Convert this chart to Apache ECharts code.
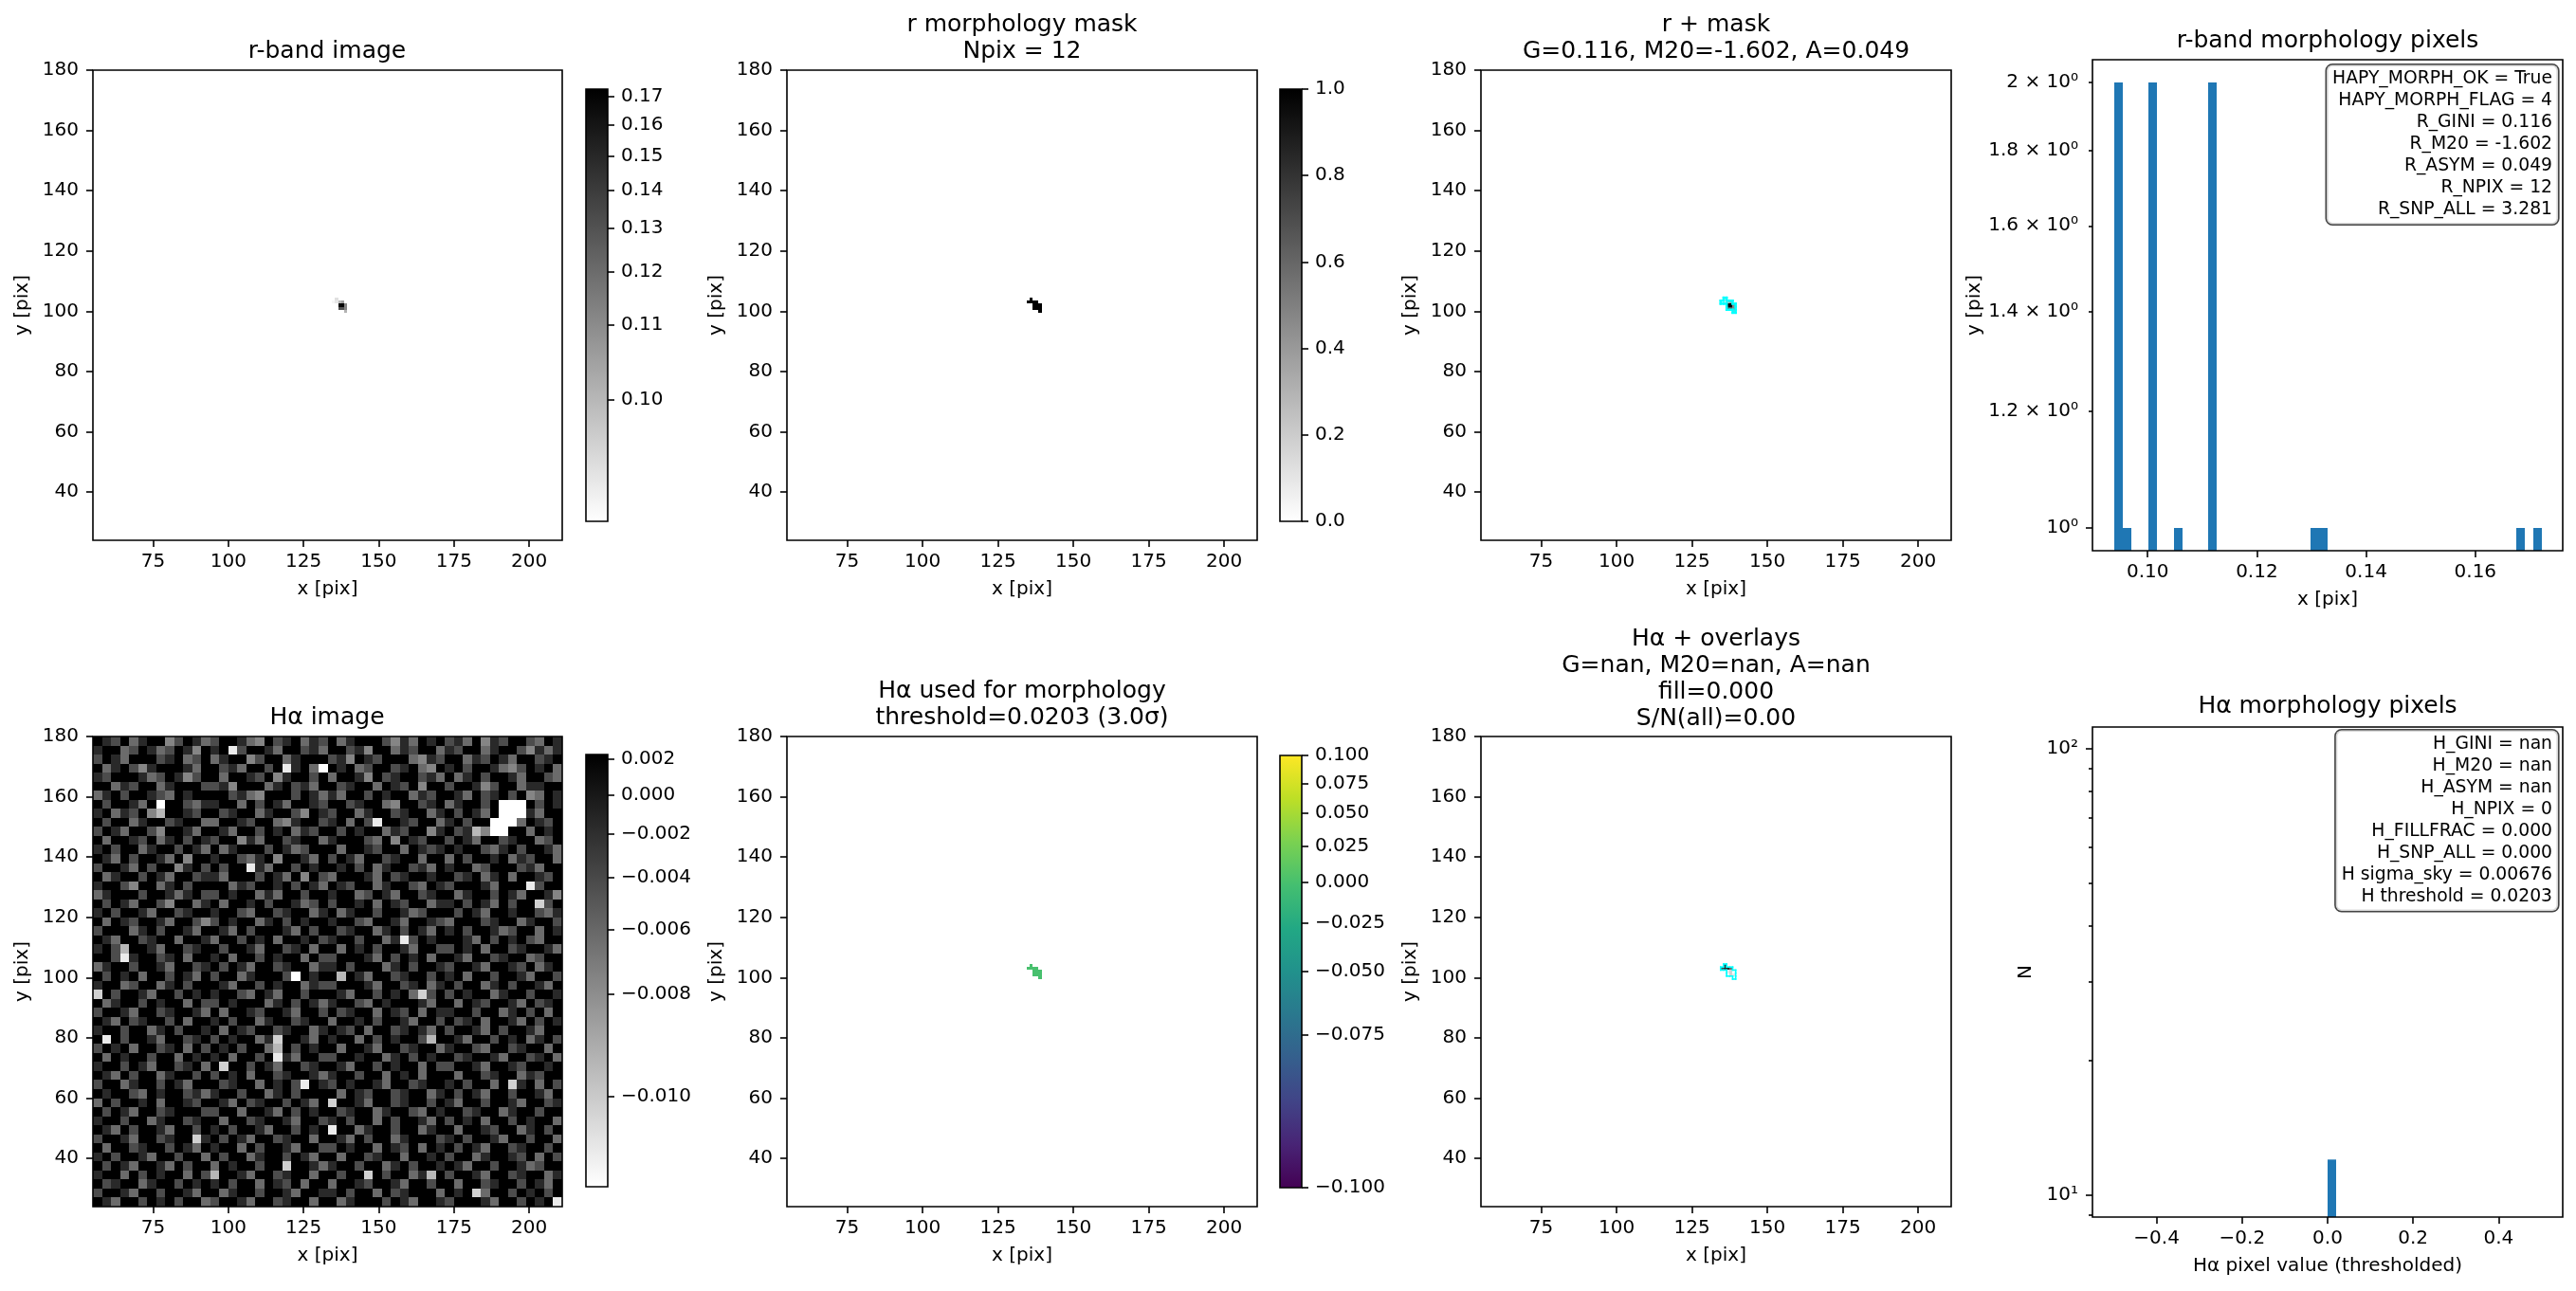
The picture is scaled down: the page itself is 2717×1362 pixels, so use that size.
<!DOCTYPE html>
<html>
<head>
<meta charset="utf-8">
<script src="https://cdn.jsdelivr.net/npm/echarts@6/dist/echarts.min.js"></script>
<style>
html, body { margin: 0; padding: 0; background: #fff; }
#chart { width: 2717px; height: 1362px; }
</style>
</head>
<body>
<div id="chart"></div>
<script>
// ---- data ----
// the 12 pixels of the r-band morphology mask (pixel centres)
const maskX = [136, 135, 136, 137, 138, 137, 138, 139, 137, 138, 139, 139];
const maskY = [104, 103, 103, 103, 103, 102, 102, 102, 101, 101, 101, 100];
// r-band flux of those pixels
const rFlux = [0.0950, 0.0939, 0.0945, 0.1005, 0.1050, 0.1680, 0.1721, 0.1115, 0.1310, 0.1300, 0.1120, 0.1010];
// H-alpha value used for morphology (thresholded) of those pixels
const haMorph = [0, 0, 0, 0, 0, 0, 0, 0, 0, 0, 0, 0];
// H-alpha overlay panel, grey level code of those pixels (0 black .. 9 white)
const haOverlayCode = [1, 2, 1, 1, 3, 8, 7, 9, 9, 7, 8, 9];

// histogram of r-band morphology pixels
const rHistLeft = [0.09386, 0.09543, 0.10013, 0.10483, 0.11109, 0.12988, 0.13145, 0.16747, 0.17060];
const rHistCount = [2, 1, 2, 1, 2, 1, 1, 1, 1];
const rHistWidth = 0.001566;
// histogram of H-alpha morphology pixels
const haHistLeft = [0.0];
const haHistCount = [12];
const haHistWidth = 0.02;

// H-alpha image, 52 x 52 blocks of 3x3 pixels, grey level codes (0 black .. 9 white), top row first
const haRows = [
  "0120310042013 2001340210312 0310002413010 2130412002301",
  "1003201320140 1082001300213 0021400312003 1200310024131",
  "2013000210320 3100420031000 2140120003412 0031201300210",
  "0310241000130 0213002081039 0103200210340 1020013420103",
  "1200013201420 0300120410020 3001402100213 0310200130023",
  "0031200310002 2140003102130 0210030120400 2001420031100",
  "3102001230100 0021340002013 1300201003120 0130210204301",
  "0200130900231 1003020130012 0021003400210 3100209990201",
  "1031204600120 0210031002401 2003100210031 0201309991300",
  "0200310021003 3001200341002 1030280012003 1020099930120",
  "2013002400130 0130020103120 0201003120041 0216499003010",
  "0300120310201 2004130021003 1000230401200 2013002100320",
  "1020031002013 0310002013200 0300120030121 0100231020013",
  "0130200130400 1002310400130 2013002100300 3020010312003",
  "2001302004102 0200813002010 0102031002130 1003200021300",
  "0310020130021 1300020130402 3000130210010 0210310300120",
  "1002400310200 0031200102013 0120031002301 2000130008200",
  "3100020013102 2010031300200 1003201300210 0310020130014",
  "0201300240031 0300102001320 2001030120031 1020130200720",
  "1020013002100 1002300210031 0310020013200 0201300100231",
  "0301200130024 2010031020100 1002300130012 3000210031002",
  "2000310200130 0130200013020 0210031020130 1020013200301",
  "0130021003001 3002010300102 1002003182010 0013020102300",
  "1026001300210 0200130021030 0301020013002 2010300210013",
  "0028100210300 1030020100302 2000130201030 0130021003200",
  "3100200130021 0201300210031 1020003102001 2001300120310",
  "0201030020130 2003100029010 0601300210020 1030020013002",
  "1003200310200 0130020100312 2000130021031 0200310200130",
  "7020013002010 1002301300200 0130020103720 2010031002001",
  "0310020100302 2010003102013 1002301000130 0301200130210",
  "2001300210013 0300120013002 0210030120301 1002003102030",
  "0130210020300 1020031002100 3001020013002 0210300130201",
  "1002003102001 0301200210031 0120300210130 2001302001300",
  "0802001300210 2010031700130 1003020100260 0130020103102",
  "2010300210302 0102003602010 0300130021003 1002300210030",
  "0301002003010 1030020813002 2001003102010 0210013002103",
  "1002013002103 0700201300210 0130020100302 2001300120010",
  "0130200310020 2010300210013 1002003010300 0300210031200",
  "2003100201300 0210030102801 2010013002100 1020030710302",
  "0100230100213 1002003102000 0301200210031 0201300200130",
  "3020010300120 0130210020130 7001300210020 1300200130021",
  "0201300210002 2003001302010 0210031002301 0021003100200",
  "1002003100210 0300210013002 1020030200130 2010300201003",
  "0130200130020 1020013002010 8003100200310 0300120031020",
  "2001300210071 0201300210030 0130200310002 1020013002003",
  "0300210020130 1003020013002 2010030120301 0201300210020",
  "1020013002003 0200310020130 0300210030010 2003100120302",
  "0201300130200 3010020070013 1002003102001 0130020013200",
  "1003020100302 6001300210030 0200702003160 2001300210031",
  "0210031002010 1020030120300 3001200130020 0300210020130",
  "2001300200130 0310020013001 1020030210003 0107300201020",
  "0130020102003 2001300210030 0310002013001 2000130020108"
];
// H-alpha value of each grey level code
const haCodeValue = [0.00229, -0.00149, -0.00426, -0.00624, -0.00760, -0.00870, -0.00955, -0.01014, -0.01048, -0.01056];

// display stretches (sqrt) and tick labels
const rStretch = { vmin: 0.0938, vmax: 0.1725 };
const haStretch = { vmin: -0.01056, vmax: 0.00229 };
const morphStretch = { vmin: -0.1, vmax: 0.1 };
const imgXTicks = [75, 100, 125, 150, 175, 200];
const imgYTicks = [40, 60, 80, 100, 120, 140, 160, 180];
const rCbTicks = [0.10, 0.11, 0.12, 0.13, 0.14, 0.15, 0.16, 0.17];
const maskCbTicks = [0, 0.2, 0.4, 0.6, 0.8, 1.0];
const haCbTicks = [0.002, 0.000, -0.002, -0.004, -0.006, -0.008, -0.010];
const morphCbTicks = [0.100, 0.075, 0.050, 0.025, 0.000, -0.025, -0.050, -0.075, -0.100];
const rHistXTicks = [0.10, 0.12, 0.14, 0.16];
const rHistYTicks = [1, 1.2, 1.4, 1.6, 1.8, 2];
const rHistYMinor = [1.2, 1.4, 1.6, 1.8, 2];
const haHistXTicks = [-0.4, -0.2, 0, 0.2, 0.4];
const haHistYTicks = [10, 100];
const haHistYMinor = [9, 20, 30, 40, 50, 60, 70, 80, 90];

const rBoxLines = ["HAPY_MORPH_OK = True", "HAPY_MORPH_FLAG = 4", "R_GINI = 0.116", "R_M20 = -1.602",
  "R_ASYM = 0.049", "R_NPIX = 12", "R_SNP_ALL = 3.281"];
const haBoxLines = ["H_GINI = nan", "H_M20 = nan", "H_ASYM = nan", "H_NPIX = 0", "H_FILLFRAC = 0.000",
  "H_SNP_ALL = 0.000", "H sigma_sky = 0.00676", "H threshold = 0.0203"];

// ---- helpers ----
const FONT = 'DejaVu Sans';
const viridisStops = ['#440154', '#482475', '#414487', '#355f8d', '#2a788e', '#21918c',
  '#22a884', '#44bf70', '#7ad151', '#bddf26', '#fde725'];

function norm(v, s) {
  const t = (v - s.vmin) / (s.vmax - s.vmin);
  return Math.sqrt(Math.min(1, Math.max(0, t)));
}
function grayR(f) {
  const k = Math.round(255 * (1 - f));
  return 'rgb(' + k + ',' + k + ',' + k + ')';
}
function hex2rgb(h) {
  return [parseInt(h.slice(1, 3), 16), parseInt(h.slice(3, 5), 16), parseInt(h.slice(5, 7), 16)];
}
function viridis(f) {
  const p = f * (viridisStops.length - 1);
  const i = Math.min(viridisStops.length - 2, Math.floor(p));
  const t = p - i;
  const a = hex2rgb(viridisStops[i]), b = hex2rgb(viridisStops[i + 1]);
  return 'rgb(' + a.map((c, j) => Math.round(c + (b[j] - c) * t)).join(',') + ')';
}
function fmtNum(v, d) {
  if (Math.abs(v) < 0.5 * Math.pow(10, -d)) v = 0;
  return v.toFixed(d).replace('-', '\u2212');
}

const tickLine = { color: '#000', width: 1.6 };
const labelStyle = { fontSize: 20, color: '#000', fontFamily: FONT };

function axis(type, grid, min, max, ticks, fmt, extra) {
  return Object.assign({
    type: type, gridIndex: grid, min: min, max: max,
    axisLine: { show: false, onZero: false }, splitLine: { show: false }, minorTick: { show: false },
    axisTick: { show: true, length: 7, lineStyle: tickLine, customValues: ticks },
    axisLabel: Object.assign({ show: true, customValues: ticks, formatter: fmt, margin: 13 }, labelStyle),
    nameTextStyle: labelStyle
  }, extra || {});
}

// pixel image drawn as rectangles through the axes
function pixelSeries(grid, items, colorFn, size) {
  return {
    type: 'custom', coordinateSystem: 'cartesian2d', xAxisIndex: grid, yAxisIndex: grid,
    clip: true, silent: true, encode: { x: 0, y: 1 }, data: items,
    renderItem: function (params, api) {
      const x = api.value(0), y = api.value(1), h = size / 2;
      const p0 = api.coord([x - h, y + h]), p1 = api.coord([x + h, y - h]);
      const x0 = Math.round(p0[0]), y0 = Math.round(p0[1]);
      const x1 = Math.round(p1[0]), y1 = Math.round(p1[1]);
      return { type: 'rect', shape: { x: x0, y: y0, width: x1 - x0, height: y1 - y0 },
        style: { fill: colorFn(api.value(2)) } };
    }
  };
}

// outline of the mask pixels (pixel edges next to non-mask pixels)
function inMask(x, y) {
  return maskX.some((mx, i) => mx === x && maskY[i] === y);
}
const maskEdges = [];
maskX.forEach((x, i) => {
  const y = maskY[i];
  if (!inMask(x, y + 1)) maskEdges.push([x - 0.5, y + 0.5, x + 0.5, y + 0.5]);
  if (!inMask(x, y - 1)) maskEdges.push([x - 0.5, y - 0.5, x + 0.5, y - 0.5]);
  if (!inMask(x - 1, y)) maskEdges.push([x - 0.5, y - 0.5, x - 0.5, y + 0.5]);
  if (!inMask(x + 1, y)) maskEdges.push([x + 0.5, y - 0.5, x + 0.5, y + 0.5]);
});
function outlineSeries(grid, width) {
  return {
    type: 'custom', coordinateSystem: 'cartesian2d', xAxisIndex: grid, yAxisIndex: grid,
    clip: true, silent: true, z: 5, encode: { x: [0, 2], y: [1, 3] }, data: maskEdges,
    renderItem: function (params, api) {
      const a = api.coord([api.value(0), api.value(1)]);
      const b = api.coord([api.value(2), api.value(3)]);
      return { type: 'line', shape: { x1: a[0], y1: a[1], x2: b[0], y2: b[1] },
        style: { stroke: '#00ffff', lineWidth: width, lineCap: 'square' } };
    }
  };
}

function histSeries(grid, lefts, counts, width, yBottom) {
  return {
    type: 'custom', coordinateSystem: 'cartesian2d', xAxisIndex: grid, yAxisIndex: grid,
    clip: true, silent: true, encode: { x: [0, 1], y: 2 },
    data: lefts.map((l, i) => [l, l + width, counts[i]]),
    renderItem: function (params, api) {
      const p0 = api.coord([api.value(0), api.value(2)]);
      const p1 = api.coord([api.value(1), yBottom]);
      const x0 = Math.round(p0[0]), x1 = Math.round(p1[0]);
      return { type: 'rect', shape: { x: x0, y: p0[1], width: x1 - x0, height: p1[1] - p0[1] },
        style: { fill: '#1f77b4' } };
    }
  };
}

function colorbarSeries(grid, stops) {
  return {
    type: 'custom', coordinateSystem: 'cartesian2d', xAxisIndex: grid, yAxisIndex: grid,
    silent: true, encode: { x: [0, 2], y: [1, 3] }, data: [[0, 0, 1, 1]],
    renderItem: function (params, api) {
      const p0 = api.coord([0, 1]), p1 = api.coord([1, 0]);
      return { type: 'rect', shape: { x: p0[0], y: p0[1], width: p1[0] - p0[0], height: p1[1] - p0[1] },
        style: { fill: new echarts.graphic.LinearGradient(0, 1, 0, 0, stops) } };
    }
  };
}

// ---- build pixel lists ----
const rPixels = maskX.map((x, i) => [x, maskY[i], rFlux[i]]);
const maskPixels = maskX.map((x, i) => [x, maskY[i], 1]);
const morphPixels = maskX.map((x, i) => [x, maskY[i], haMorph[i]]);
const overlayPixels = maskX.map((x, i) => [x, maskY[i], haCodeValue[haOverlayCode[i]]]);
const haPixels = [];
haRows.forEach((row, r) => {
  const codes = row.replace(/ /g, '');
  for (let c = 0; c < codes.length; c++) {
    haPixels.push([55 + 3 * c + 1.5, 180 - 3 * r - 1.5, haCodeValue[+codes[c]]]);
  }
});

// ---- layout ----
const gridBoxes = [
  [98, 74, 495, 496], [830, 74, 496, 496], [1562, 74, 496, 496], [2207, 63, 496, 518],
  [98, 777, 495, 496], [830, 777, 496, 496], [1562, 777, 496, 496], [2207, 767, 496, 517],
  [618, 94, 23, 456], [1350, 94, 23, 456], [618, 796, 23, 456], [1350, 797, 23, 456]
];
const grids = gridBoxes.map(b => ({
  left: b[0], top: b[1], width: b[2], height: b[3], show: true, z: 10,
  backgroundColor: 'transparent', borderColor: '#000', borderWidth: 1.6,
  containLabel: false, outerBoundsMode: 'none'
}));

const intFmt = v => String(Math.round(v));
const rLogFmt = function (v) {
  const r = Math.round(v * 10) / 10;
  return r === 1 ? '10\u2070' : r + ' \u00d7 10\u2070';
};
const haLogFmt = v => (Math.round(Math.log10(v)) === 1 ? '10\u00b9' : '10\u00b2');
const xAxes = [], yAxes = [];
[0, 1, 2, 4, 5, 6].forEach(g => {
  xAxes[g] = axis('value', g, 55, 211, imgXTicks, intFmt,
    { position: 'bottom', name: 'x [pix]', nameLocation: 'middle', nameGap: 42 });
  yAxes[g] = axis('value', g, 24, 180, imgYTicks, intFmt,
    { position: 'left', name: 'y [pix]', nameLocation: 'middle', nameGap: 64,
      axisLabel: Object.assign({ customValues: imgYTicks, formatter: intFmt, margin: 15 }, labelStyle) });
});
xAxes[3] = axis('value', 3, 0.0899, 0.1760, rHistXTicks, v => v.toFixed(2),
  { position: 'bottom', name: 'x [pix]', nameLocation: 'middle', nameGap: 42 });
yAxes[3] = axis('log', 3, 0.9652, 2.072, rHistYTicks, rLogFmt,
  { logBase: 10, position: 'left', name: 'y [pix]', nameLocation: 'middle', nameGap: 114,
    axisTick: { show: true, length: 7, lineStyle: tickLine, customValues: [1] },
    axisLabel: Object.assign({ customValues: rHistYTicks, margin: 15, formatter: rLogFmt }, labelStyle) });
xAxes[7] = axis('value', 7, -0.55, 0.55, haHistXTicks, v => fmtNum(v, 1),
  { position: 'bottom', name: 'H\u03b1 pixel value (thresholded)', nameLocation: 'middle', nameGap: 42 });
yAxes[7] = axis('log', 7, 8.92, 111.6, haHistYTicks, haLogFmt,
  { logBase: 10, position: 'left', name: 'N', nameLocation: 'middle', nameGap: 60,
    axisLabel: Object.assign({ customValues: haHistYTicks, margin: 15, formatter: haLogFmt }, labelStyle) });

// colorbars: y axis in display-stretch space
[8, 9, 10, 11].forEach(g => {
  xAxes[g] = { type: 'value', gridIndex: g, min: 0, max: 1, show: false, axisLine: { onZero: false } };
});
function cbAxis(g, ticks, fmt) {
  const a = axis('value', g, 0, 1, ticks, fmt, { position: 'right' });
  a.axisLabel.margin = 14;
  return a;
}
yAxes[8] = cbAxis(8, rCbTicks.map(v => norm(v, rStretch)),
  f => (rStretch.vmin + f * f * (rStretch.vmax - rStretch.vmin)).toFixed(2));
yAxes[9] = cbAxis(9, maskCbTicks, v => v.toFixed(1));
yAxes[10] = cbAxis(10, haCbTicks.map(v => norm(v, haStretch)),
  f => fmtNum(haStretch.vmin + f * f * (haStretch.vmax - haStretch.vmin), 3));
yAxes[11] = cbAxis(11, morphCbTicks.map(v => norm(v, morphStretch)),
  f => fmtNum(morphStretch.vmin + f * f * (morphStretch.vmax - morphStretch.vmin), 3));

// minor ticks of the log histogram axes
function minorAxis(g, min, max, ticks) {
  return { type: 'log', logBase: 10, gridIndex: g, min: min, max: max, position: 'left',
    axisLine: { show: false, onZero: false }, splitLine: { show: false }, axisLabel: { show: false },
    minorTick: { show: false },
    axisTick: { show: true, length: 4, lineStyle: tickLine, customValues: ticks } };
}
yAxes[12] = minorAxis(3, 0.9652, 2.072, rHistYMinor);
yAxes[13] = minorAxis(7, 8.92, 111.6, haHistYMinor);

const grayStops = [{ offset: 0, color: '#ffffff' }, { offset: 1, color: '#000000' }];
const viridisGrad = viridisStops.map((c, i) => ({ offset: i / (viridisStops.length - 1), color: c }));

const series = [
  pixelSeries(0, rPixels, v => grayR(norm(v, rStretch)), 1),
  pixelSeries(1, maskPixels, v => grayR(v), 1),
  pixelSeries(2, rPixels, v => grayR(norm(v, rStretch)), 1),
  outlineSeries(2, 2.4),
  histSeries(3, rHistLeft, rHistCount, rHistWidth, 0.9652),
  pixelSeries(4, haPixels, v => grayR(norm(v, haStretch)), 3),
  pixelSeries(5, morphPixels, v => viridis(norm(v, morphStretch)), 1),
  pixelSeries(6, overlayPixels, v => grayR(norm(v, haStretch)), 1),
  outlineSeries(6, 1.6),
  histSeries(7, haHistLeft, haHistCount, haHistWidth, 8.92),
  colorbarSeries(8, grayStops),
  colorbarSeries(9, grayStops),
  colorbarSeries(10, grayStops),
  colorbarSeries(11, viridisGrad)
];

const titleStyle = { fontSize: 25, lineHeight: 28, fontWeight: 'normal', color: '#000', fontFamily: FONT };
const titleDefs = [
  ['r-band image', 345, 40],
  ['r morphology mask\nNpix = 12', 1078, 12],
  ['r + mask\nG=0.116, M20=-1.602, A=0.049', 1810, 12],
  ['r-band morphology pixels', 2455, 29],
  ['H\u03b1 image', 345, 743],
  ['H\u03b1 used for morphology\nthreshold=0.0203 (3.0\u03c3)', 1078, 715],
  ['H\u03b1 + overlays\nG=nan, M20=nan, A=nan\nfill=0.000\nS/N(all)=0.00', 1810, 660],
  ['H\u03b1 morphology pixels', 2455, 731]
];
const titles = titleDefs.map(t => ({
  text: t[0], left: t[1], top: t[2], textAlign: 'center', padding: 0, textStyle: titleStyle
}));

function infoBox(lines, right, top, pad) {
  return {
    type: 'text', x: right, y: top, z: 100,
    style: {
      text: lines.join('\n'), align: 'right', verticalAlign: 'top',
      fontSize: 18.75, fontFamily: FONT, fill: '#000', lineHeight: 23,
      backgroundColor: 'rgba(255,255,255,0.8)', borderColor: '#444', borderWidth: 1.6,
      borderRadius: 6, padding: pad
    }
  };
}

const chart = echarts.init(document.getElementById('chart'), null, { width: 2717, height: 1362 });
chart.setOption({
  backgroundColor: '#fff',
  animation: false,
  title: titles,
  grid: grids,
  xAxis: xAxes,
  yAxis: yAxes,
  series: series,
  graphic: [
    infoBox(rBoxLines, 2698, 68.5, [3, 6, 4, 6]),
    infoBox(haBoxLines, 2698, 770.5, [3, 6, 3.5, 6])
  ]
});
</script>
</body>
</html>
